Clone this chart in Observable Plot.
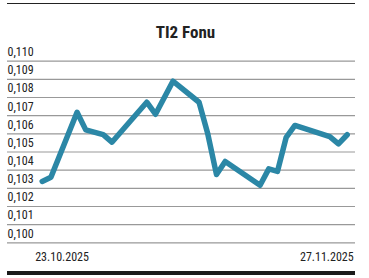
<!DOCTYPE html>
<html>
<head>
<meta charset="utf-8">
<script src="https://cdn.jsdelivr.net/npm/d3@7"></script>
<script src="https://cdn.jsdelivr.net/npm/@observablehq/plot@0.6"></script>
<style>
  html, body { margin: 0; padding: 0; background: #fff; }
  #wrap { position: relative; width: 369px; height: 278px; overflow: hidden; }
  .topRule { position: absolute; left: 7px; width: 348px; top: 3px; height: 1px; background: #222; }
  .bottomBar { position: absolute; left: 7px; width: 348px; top: 271px; height: 4px; background: #1a1a1a; }
</style>
</head>
<body>
<div id="wrap"><div class="topRule"></div><div class="bottomBar"></div></div>
<script>
const title = "TI2 Fonu";
const dates = ["2025-10-23","2025-10-24","2025-10-27","2025-10-28","2025-10-30","2025-10-31","2025-11-04","2025-11-05","2025-11-07","2025-11-10","2025-11-11","2025-11-12","2025-11-13","2025-11-17","2025-11-18","2025-11-19","2025-11-20","2025-11-21","2025-11-25","2025-11-26","2025-11-27"];
const values = [0.10338,0.10361,0.10719,0.10622,0.10596,0.10554,0.10774,0.10708,0.10890,0.10774,0.10600,0.10376,0.10448,0.10317,0.10407,0.10393,0.10581,0.10646,0.10585,0.10545,0.10595];
const yTicks = [0.100,0.101,0.102,0.103,0.104,0.105,0.106,0.107,0.108,0.109,0.110];
const xLabelDates = ["2025-10-23","2025-11-27"];

const data = dates.map((d, i) => ({date: new Date(d), value: values[i]}));
const fmtDate = d3.utcFormat("%d.%m.%Y");
const font = "'Liberation Sans Narrow','Roboto Condensed','DejaVu Sans Condensed',sans-serif";

const chart = Plot.plot({
  width: 369,
  height: 278,
  marginLeft: 7,
  marginRight: 14,
  marginTop: 60.7,
  marginBottom: 35.7,
  style: {fontFamily: font, background: "transparent"},
  x: {type: "utc", domain: [new Date(dates[0]), new Date(dates[dates.length - 1])], insetLeft: 34.7, insetRight: 8.3, axis: null},
  y: {domain: [0.100, 0.110], axis: null},
  marks: [
    Plot.ruleY(yTicks, {stroke: "#999", strokeWidth: 1.2}),
    Plot.axisY(yTicks, {tickSize: 0, tickPadding: 0, textAnchor: "start", dy: -9, label: null,
      tickFormat: d => d.toFixed(3).replace(".", ","), fontSize: 12, fill: "#222"}),
    Plot.line(data, {x: "date", y: "value", stroke: "#2b87a6", strokeWidth: 5.5, strokeLinejoin: "round", strokeLinecap: "round"}),
    Plot.text([xLabelDates[0]], {x: d => new Date(d), text: d => fmtDate(new Date(d)), frameAnchor: "bottom", dy: 18.5, textAnchor: "start", dx: -7, fontSize: 12, fill: "#222"}),
    Plot.text([xLabelDates[1]], {x: d => new Date(d), text: d => fmtDate(new Date(d)), frameAnchor: "bottom", dy: 18.5, textAnchor: "end", dx: 6.5, fontSize: 12, fill: "#222"}),
    Plot.text([title], {frameAnchor: "top", dy: -35, dx: 4, fontSize: 17, fontWeight: "bold", fill: "#222"})
  ]
});
document.getElementById("wrap").prepend(chart);
</script>
</body>
</html>
